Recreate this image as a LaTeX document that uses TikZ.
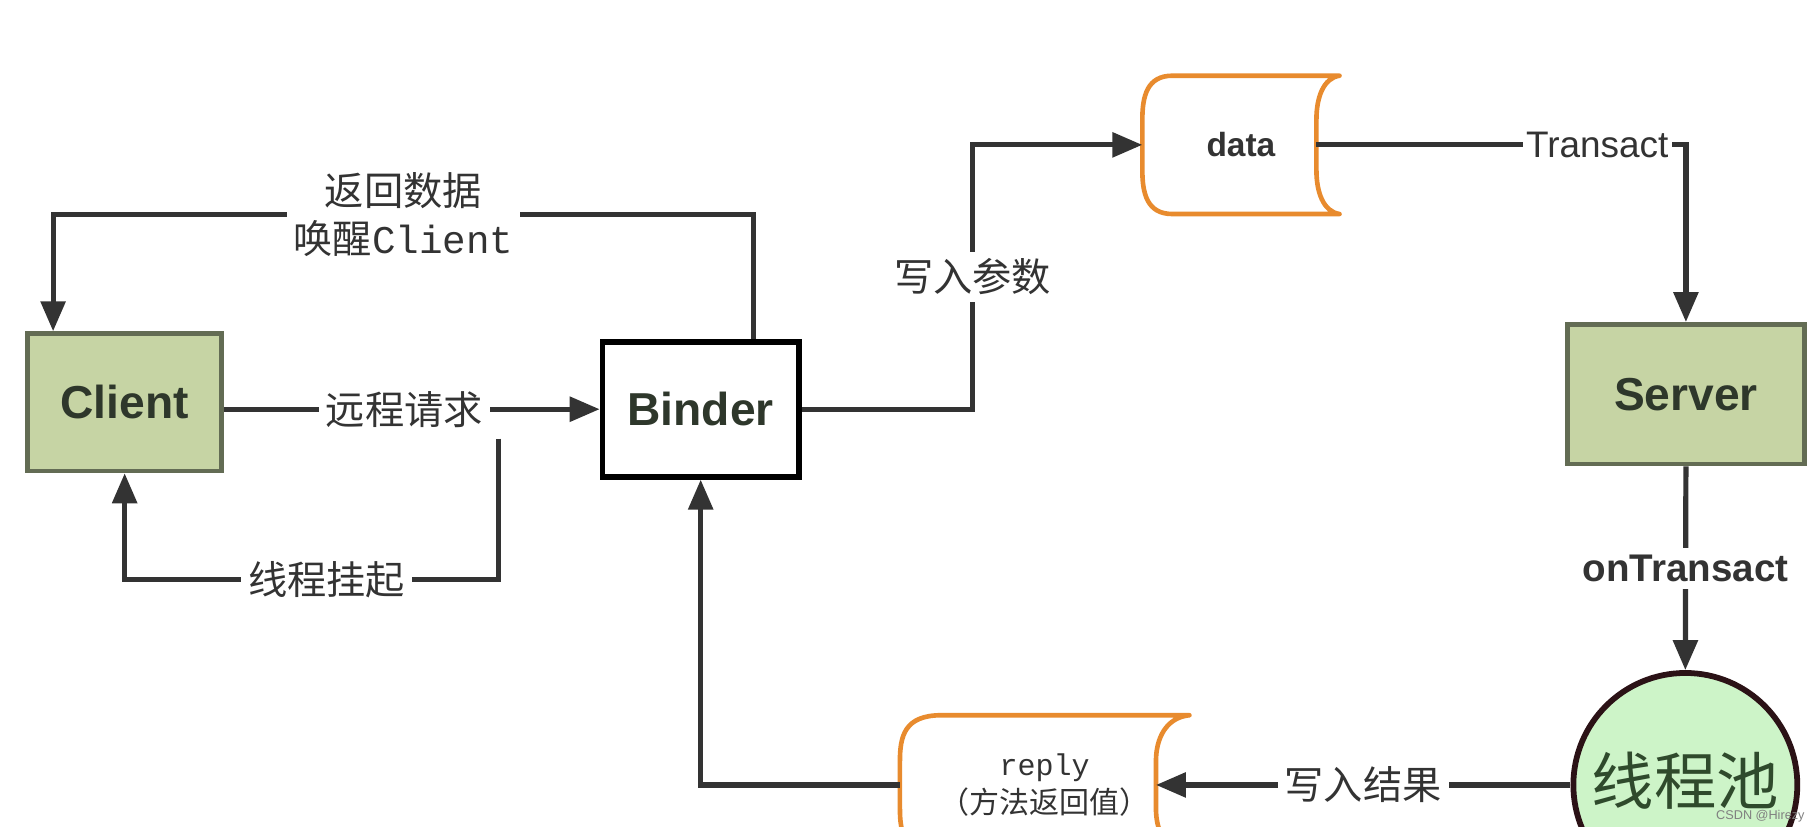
\documentclass[tikz,border=0pt]{standalone}
\usepackage{fontspec}
\setmainfont{Liberation Sans}
\newfontfamily\cjk{Noto Sans CJK SC}
\newfontfamily\monof{Liberation Mono}
\usetikzlibrary{arrows.meta,calc}
\definecolor{boxgreen}{HTML}{C6D4A4}
\definecolor{boxborder}{HTML}{636C54}
\definecolor{boxtext}{HTML}{2E372B}
\definecolor{poolfill}{HTML}{CDF4C8}
\definecolor{poolborder}{HTML}{2B1216}
\definecolor{poolttext}{HTML}{2F4A2C}
\definecolor{orangec}{HTML}{E88B2E}
\definecolor{linec}{HTML}{333333}
\definecolor{labelc}{HTML}{333333}
\newcommand\stshape[4]{%
  \draw[orangeline] ($(#1.north west)+(#2,0)$) -- (#1.north east)
    .. controls ($(#1.north east)+(-0.7*#3,2)$) and ($(#1.north east)+(-#3,0.5*#4)$) .. ($(#1.north east)+(-#3,#4)$)
    -- ($(#1.south east)+(-#3,-#4)$)
    .. controls ($(#1.south east)+(-#3,-0.5*#4)$) and ($(#1.south east)+(-0.7*#3,-2)$) .. (#1.south east)
    -- ($(#1.south west)+(#2,0)$)
    .. controls ($(#1.south west)+(4,0)$) and ($(#1.south west)+(0,-18)$) .. ($(#1.south west)+(0,-#4)$)
    -- ($(#1.north west)+(0,#4)$)
    .. controls ($(#1.north west)+(0,18)$) and ($(#1.north west)+(4,0)$) .. ($(#1.north west)+(#2,0)$) -- cycle;}
\begin{document}
\begin{tikzpicture}[x=0.5pt,y=-0.5pt,
  greenbox/.style={draw=boxborder, fill=boxgreen, line width=2pt, text=boxtext,
    font=\bfseries\fontsize{20}{24}\selectfont},
  binderbox/.style={draw=black, fill=white, line width=2.5pt, text=boxtext,
    font=\bfseries\fontsize{20}{24}\selectfont},
  orangeline/.style={draw=orangec, line width=2pt, line join=round, fill=white},
  conn/.style={draw=linec, line width=2.25pt, -{Triangle[length=13pt,width=10.5pt]}},
  lbl/.style={fill=white, inner sep=3pt, text=labelc, font=\cjk\fontsize{17}{21}\selectfont},
  lbls/.style={fill=white, inner sep=1.5pt, text=labelc, font=\fontsize{16}{19}\selectfont},
  lblb/.style={fill=white, inner sep=3pt, text=labelc, font=\bfseries\fontsize{16.7}{19}\selectfont}
]
\useasboundingbox (0,0) rectangle (1568,716);
\fill[white] (0,0) rectangle (1568,716);

% nodes
\node[greenbox, minimum width=84pt, minimum height=59.5pt] (Client) at (108,348.5) {Client};
\node[binderbox, minimum width=85pt, minimum height=58.5pt] (Binder) at (607,354.5) {Binder};
\node[greenbox, minimum width=102.5pt, minimum height=60.5pt] (Server) at (1460.5,341.5) {Server};
\node[circle, draw=poolborder, fill=poolfill, line width=2.5pt, minimum size=97pt, inner sep=0pt] (pool) at (1460,680) {};
\node[inner sep=0pt, minimum width=85pt, minimum height=59.5pt] (data) at (1075,125.5) {};
\node[inner sep=0pt, minimum width=125pt, minimum height=60pt] (reply) at (905,680) {};
\stshape{data}{26}{20}{38}
\stshape{reply}{36}{29}{40}
\node[text=labelc, font=\bfseries\fontsize{14.5}{16}\selectfont] (datatext) at (data) {data};
\node[text=labelc, align=center, font=\fontsize{13}{16.5}\selectfont] (replytext) at (reply) {{\monof reply}\\{\cjk （方法返回值）}};
\node[text=poolttext, font=\cjk\fontsize{27}{30}\selectfont] (pooltext) at ($(pool)+(0,-4)$) {线程池};

% connectors
\draw[conn] (Client.east |- Binder.west) -- node[lbl, pos=0.48]{远程请求} (Binder.west);
\coordinate (susp) at (432,380);
\draw[conn] (susp) |- node[lbl, pos=0.73]{线程挂起} ($(Client.south)+(0,92)$) -- (Client.south);
\draw[conn] ($(Binder.north)+(46,0)$) |- node[lbl, pos=0.75, align=center]{返回数据\\唤醒{\monof Client}} ($(Client.north)+(-62,-101)$) -- ($(Client.north)+(-62,0)$);
\draw[conn] (Binder.east) -- ($(Binder.east)+(148,0)$) |- node[lbl, pos=0.25]{写入参数} (data.west);
\coordinate (dataR) at ($(data.east)+(-20,0)$);
\draw[conn] (dataR) -| node[lbls, pos=0.38]{Transact} (Server.north);
\draw[conn] (Server.south) -- node[lblb]{onTransact} (pool.north);
\coordinate (replyR) at ($(reply.east)+(-29,0)$);
\draw[conn] (pool.west) -- node[lbl]{写入结果} (replyR);
\draw[conn] (reply.west) -| (Binder.south);

\node[text=gray, font=\fontsize{5.5}{6.5}\selectfont, inner sep=0pt] (wm) at (1525,707) {CSDN @Hirezy};
\end{tikzpicture}
\end{document}
